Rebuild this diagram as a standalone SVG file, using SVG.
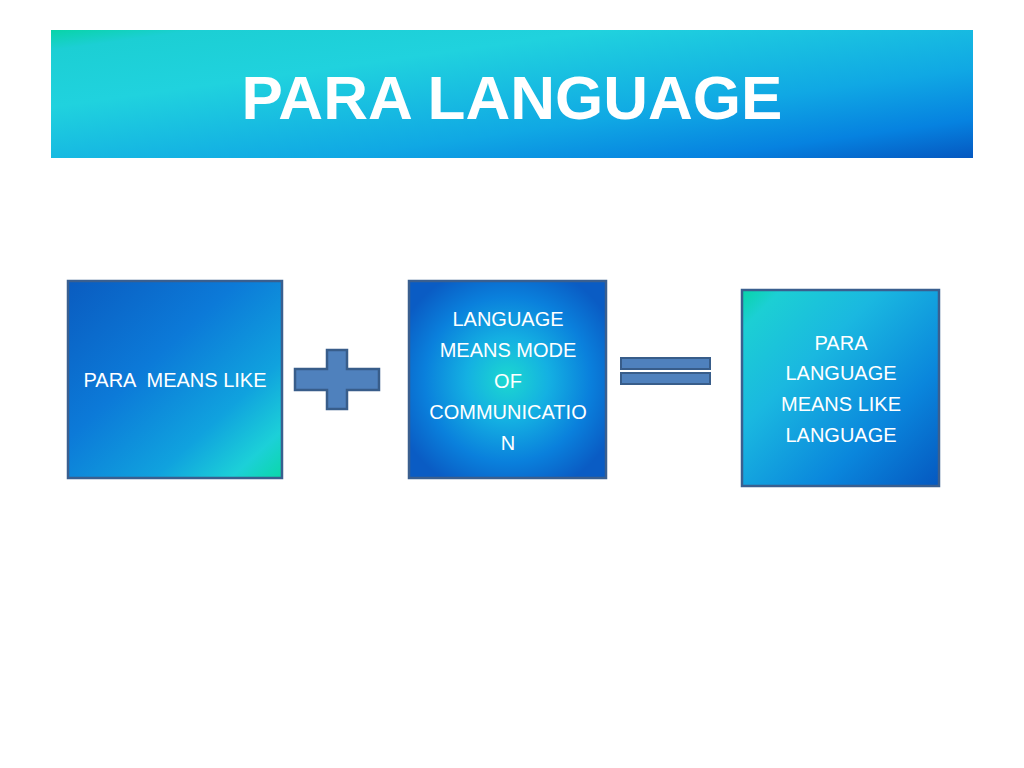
<svg xmlns="http://www.w3.org/2000/svg" width="1024" height="768" viewBox="0 0 1024 768">
<defs>
<linearGradient id="gTitle" x1="0" y1="0" x2="1" y2="1">
<stop offset="0" stop-color="#08d4a8"/>
<stop offset="0.08" stop-color="#1ccfd4"/>
<stop offset="0.3" stop-color="#20d2de"/>
<stop offset="0.65" stop-color="#10a8e4"/>
<stop offset="0.85" stop-color="#0682e0"/>
<stop offset="1" stop-color="#0558c0"/>
</linearGradient>
<linearGradient id="gBox1" x1="0" y1="0" x2="1" y2="1">
<stop offset="0" stop-color="#0a5cc0"/>
<stop offset="0.4" stop-color="#0c7ad8"/>
<stop offset="0.7" stop-color="#10a2de"/>
<stop offset="0.88" stop-color="#1cd0d8"/>
<stop offset="1" stop-color="#0ad8a8"/>
</linearGradient>
<radialGradient id="gBox2" cx="0.5" cy="0.5" r="0.6">
<stop offset="0" stop-color="#1cd8d0"/>
<stop offset="0.35" stop-color="#14b0e2"/>
<stop offset="0.7" stop-color="#0a80dc"/>
<stop offset="1" stop-color="#0a5cc4"/>
</radialGradient>
<linearGradient id="gBox3" x1="0" y1="0" x2="1" y2="1">
<stop offset="0" stop-color="#08d4a8"/>
<stop offset="0.1" stop-color="#1ccfd4"/>
<stop offset="0.35" stop-color="#1ab8e0"/>
<stop offset="0.7" stop-color="#0a86dc"/>
<stop offset="1" stop-color="#0558c0"/>
</linearGradient>
</defs>
<style>
.box{stroke:#3a5f8f;stroke-width:2.5}
.sym{fill:#4f81bd;stroke:#385d8a;stroke-width:2.5}
.eq{fill:#4f81bd;stroke:#385d8a;stroke-width:2}
.lbl{font-family:"Liberation Sans",Arial,sans-serif;font-size:20px;fill:#ffffff;text-anchor:middle}
.title{font-family:"Liberation Sans",Arial,sans-serif;font-size:62px;font-weight:bold;fill:#ffffff;text-anchor:middle}
</style>
<rect width="1024" height="768" fill="#ffffff"/>
<g id="title">
<rect x="51" y="30" width="922" height="128" fill="url(#gTitle)"/>
<text class="title" x="512" y="119">PARA LANGUAGE</text>
</g>
<g id="box-para">
<rect class="box" x="68" y="281" width="214" height="197" fill="url(#gBox1)"/>
<text class="lbl" x="175" y="387" xml:space="preserve">PARA  MEANS LIKE</text>
</g>
<g id="box-language">
<rect class="box" x="409" y="281" width="197" height="197" fill="url(#gBox2)"/>
<text class="lbl" x="508" y="326">LANGUAGE</text>
<text class="lbl" x="508" y="357">MEANS MODE</text>
<text class="lbl" x="508" y="388">OF</text>
<text class="lbl" x="508" y="419">COMMUNICATIO</text>
<text class="lbl" x="508" y="450">N</text>
</g>
<g id="box-result">
<rect class="box" x="742" y="290" width="197" height="196" fill="url(#gBox3)"/>
<text class="lbl" x="841" y="350">PARA</text>
<text class="lbl" x="841" y="380">LANGUAGE</text>
<text class="lbl" x="841" y="411">MEANS LIKE</text>
<text class="lbl" x="841" y="442">LANGUAGE</text>
</g>
<g id="connectors">
<g id="plus">
<path class="sym" d="M327,350 H347 V369 H379 V390 H347 V409 H327 V390 H295 V369 H327 Z"/>
</g>
<g id="equals">
<rect class="eq" x="621" y="358" width="89" height="11"/>
<rect class="eq" x="621" y="373" width="89" height="11"/>
</g>
</g>
</svg>
